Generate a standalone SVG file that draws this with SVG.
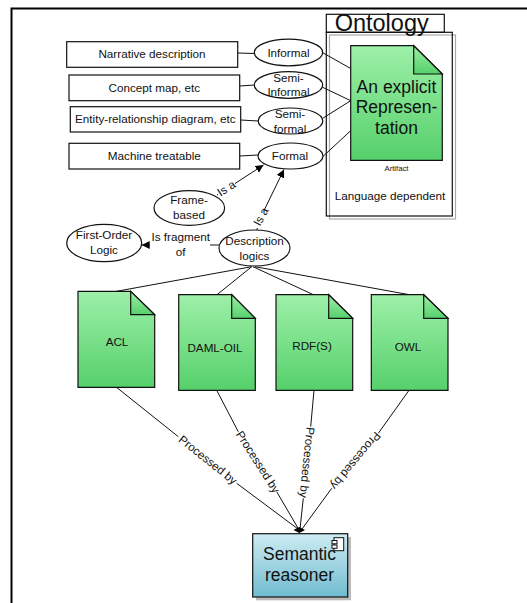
<svg xmlns="http://www.w3.org/2000/svg" width="527" height="603" viewBox="0 0 527 603">
<defs>
<linearGradient id="g" x1="0" y1="0" x2="0" y2="1"><stop offset="0" stop-color="#9df0a8"/><stop offset="1" stop-color="#56d06b"/></linearGradient>
<linearGradient id="b" x1="0" y1="0" x2="0" y2="1"><stop offset="0" stop-color="#cfebf2"/><stop offset="1" stop-color="#6fbcd0"/></linearGradient>
<marker id="arrow" markerUnits="userSpaceOnUse" markerWidth="9" markerHeight="9" refX="8" refY="4" orient="auto"><path d="M0 0L8 4L0 8Z" fill="#000"/></marker>
</defs>
<style>
text{font-family:"Liberation Sans",Arial,sans-serif;font-size:11.7px;fill:#111;text-anchor:middle}
.s{fill:#fff;stroke:#111;stroke-width:1.2}
.d{fill:url(#g);stroke:#111;stroke-width:1.2}
.c line{stroke:#111;stroke-width:1;fill:none}
.big{font-size:17.5px}
</style>
<rect width="527" height="603" fill="#fff"/>
<path d="M11.5 603V8.5H527" fill="none" stroke="#000" stroke-width="2"/>

<g id="ontology">
<rect x="329.5" y="35" width="126" height="184" fill="#fff" stroke="#aaa" stroke-width="1.2"/>
<rect class="s" x="326.3" y="14.3" width="118" height="18"/>
<rect x="326.3" y="32.3" width="126" height="183.7" fill="none" stroke="#111" stroke-width="1.2"/>
<text x="381.7" y="31" style="font-size:23.5px">Ontology</text>
<text x="390" y="200">Language dependent</text>
</g>

<g class="c" id="connectors">
<line x1="237.7" y1="53" x2="254.3" y2="53.5"/>
<line x1="239.7" y1="86" x2="254.3" y2="85"/>
<line x1="240.7" y1="120" x2="258" y2="121"/>
<line x1="239.7" y1="156" x2="258" y2="155"/>
<line x1="322.7" y1="52.7" x2="350.7" y2="68.5"/>
<line x1="322.7" y1="87.3" x2="350.7" y2="100.7"/>
<line x1="322.7" y1="118.3" x2="350.7" y2="100.7"/>
<line x1="322.7" y1="156.7" x2="350.7" y2="130.7"/>
<line x1="217" y1="195" x2="218" y2="194.4"/>
<line x1="235" y1="183.5" x2="263.5" y2="165" marker-end="url(#arrow)"/>
<line x1="256.7" y1="230" x2="257.5" y2="228"/>
<line x1="263.5" y1="211.5" x2="284" y2="169.5" marker-end="url(#arrow)"/>
<line x1="219" y1="245" x2="210" y2="245"/>
<line x1="150" y1="245" x2="141.7" y2="245" marker-end="url(#arrow)"/>
<line x1="251.7" y1="266.7" x2="116.5" y2="291.3"/>
<line x1="251.7" y1="266.7" x2="217" y2="294.7"/>
<line x1="253" y1="266.7" x2="313.3" y2="294.7"/>
<line x1="255" y1="266.7" x2="409.3" y2="294.7"/>
<line x1="116.5" y1="387.3" x2="178.3" y2="436.7"/>
<line x1="236.7" y1="483.3" x2="298" y2="529"/>
<line x1="216.7" y1="390.3" x2="238.3" y2="431.7"/>
<line x1="276.7" y1="491.7" x2="298.5" y2="529"/>
<line x1="314" y1="390.3" x2="310.7" y2="426.7"/>
<line x1="303.3" y1="498.3" x2="300" y2="529"/>
<line x1="409" y1="390.3" x2="378.3" y2="433.3"/>
<line x1="331.7" y1="488.3" x2="302" y2="529"/>
<path d="M293.5 530L299.3 527L305 530L299.3 533Z" fill="#000"/>
<text transform="translate(228.5 191.7) rotate(-33)">Is a</text>
<text transform="translate(264.5 218.5) rotate(-62)">Is a</text>
<text x="180.7" y="241">Is fragment</text>
<text x="180.7" y="255.5">of</text>
<text transform="translate(205.5 463) rotate(38.6)">Processed by</text>
<text transform="translate(254.5 464) rotate(57.4)">Processed by</text>
<text transform="translate(303 462) rotate(95.8)">Processed by</text>
<text transform="translate(352.5 458) rotate(130)">Processed by</text>
</g>

<g id="narrative"><rect class="s" x="66.7" y="41.7" width="171" height="25.6"/><text x="152" y="58.3">Narrative description</text></g>
<g id="concept"><rect class="s" x="69" y="75" width="170.7" height="25.7"/><text x="154.3" y="92">Concept map, etc</text></g>
<g id="entity"><rect class="s" x="70.3" y="106.7" width="170.4" height="25.3"/><text x="155.3" y="123.3">Entity-relationship diagram, etc</text></g>
<g id="machine"><rect class="s" x="69" y="143.3" width="170.7" height="25.7"/><text x="154.3" y="160">Machine treatable</text></g>

<g id="informal"><ellipse class="s" cx="288.5" cy="52.5" rx="34.2" ry="13.3"/><text x="288.5" y="56.5">Informal</text></g>
<g id="semi-informal"><ellipse class="s" cx="288.5" cy="85" rx="34.2" ry="13.3"/><text x="288.5" y="81.5">Semi-</text><text x="288.5" y="96">Informal</text></g>
<g id="semi-formal"><ellipse class="s" cx="290.5" cy="121" rx="32.3" ry="13"/><text x="290" y="118">Semi-</text><text x="290" y="132.5">formal</text></g>
<g id="formal"><ellipse class="s" cx="290.5" cy="156" rx="32.5" ry="13"/><text x="290" y="160">Formal</text></g>

<g id="artifact">
<path class="d" d="M350.7 45.7H413.7L442.3 74V160.3H350.7Z"/>
<path class="d" d="M413.7 45.7V74H442.3Z"/>
<text class="big" x="396.5" y="92.5">An explicit</text>
<text class="big" x="396.5" y="113">Represen-</text>
<text class="big" x="396.5" y="134">tation</text>
<text x="396.5" y="171" style="font-size:7.7px">Artifact</text>
</g>

<g id="frame-based"><ellipse class="s" cx="189.3" cy="208" rx="35.3" ry="17.3"/><text x="189" y="204">Frame-</text><text x="189" y="219">based</text></g>
<g id="first-order"><ellipse class="s" cx="104.2" cy="243" rx="37.5" ry="18.7"/><text x="104" y="239">First-Order</text><text x="104" y="254">Logic</text></g>
<g id="description"><ellipse class="s" cx="254.5" cy="248" rx="35.5" ry="18"/><text x="254.5" y="245">Description</text><text x="254.5" y="259.5">logics</text></g>

<g id="acl"><path class="d" d="M78 291.3H130.7L154.7 314.7V387.3H78Z"/><path class="d" d="M130.7 291.3V314.7H154.7Z"/><text x="117" y="346">ACL</text></g>
<g id="daml"><path class="d" d="M178.7 294.7H231.7L255.3 318.3V390.3H178.7Z"/><path class="d" d="M231.7 294.7V318.3H255.3Z"/><text x="215" y="352">DAML-OIL</text></g>
<g id="rdf"><path class="d" d="M276 294.7H328.7L352.7 318.3V390.3H276Z"/><path class="d" d="M328.7 294.7V318.3H352.7Z"/><text x="312" y="350">RDF(S)</text></g>
<g id="owl"><path class="d" d="M371.3 294.7H423.7L448 318.3V390.3H371.3Z"/><path class="d" d="M423.7 294.7V318.3H448Z"/><text x="408" y="351">OWL</text></g>

<g id="reasoner">
<rect x="256" y="537" width="95" height="63.3" fill="#bbb"/>
<rect x="252.7" y="533.7" width="95" height="63.3" fill="url(#b)" stroke="#111" stroke-width="1.2"/>
<rect x="334" y="537.7" width="9.7" height="13" fill="#fff" stroke="#111" stroke-width="1"/>
<rect x="332" y="540.5" width="5" height="3.3" fill="#fff" stroke="#111" stroke-width="1"/>
<rect x="332" y="545" width="5" height="3.3" fill="#fff" stroke="#111" stroke-width="1"/>
<text class="big" x="299.5" y="560">Semantic</text>
<text class="big" x="299.5" y="581">reasoner</text>
</g>
</svg>
